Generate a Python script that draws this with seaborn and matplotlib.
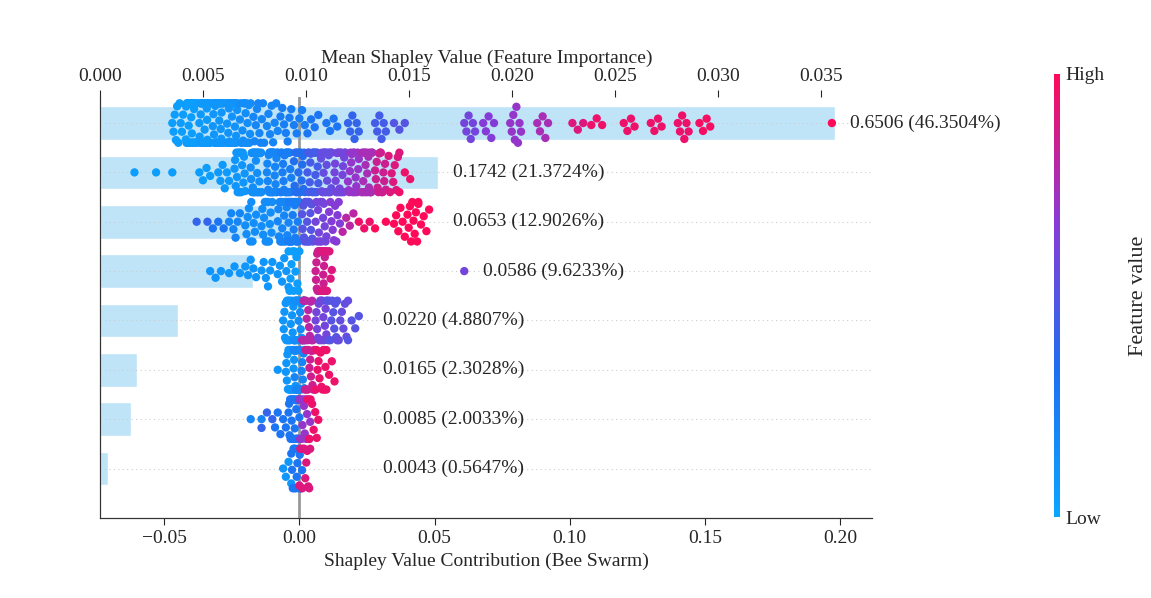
import warnings
import numpy as np
import pandas as pd
import matplotlib
matplotlib.use("Agg")
import matplotlib.pyplot as plt
import seaborn as sns
from matplotlib.colors import LinearSegmentedColormap, Normalize
from matplotlib.cm import ScalarMappable

warnings.filterwarnings("ignore")

features = ["DIGI", "TRANS", "FIN", "GOV", "OPEN", "POP", "IND", "ECO"]
mean_shap = [0.0357, 0.0164, 0.0100, 0.0074, 0.0038, 0.0018, 0.0015, 0.0004]
labels = ["0.6506 (46.3504%)", "0.1742 (21.3724%)", "0.0653 (12.9026%)",
          "0.0586 (9.6233%)", "0.0220 (4.8807%)", "0.0165 (2.3028%)",
          "0.0085 (2.0033%)", "0.0043 (0.5647%)"]
label_x = [0.2037, 0.057, 0.057, 0.068, 0.031, 0.031, 0.031, 0.031]

# per-feature bins: (shap center, count, feature value)
bins = {
    "DIGI": [(-0.045, 10, 0.05), (-0.040, 35, 0.05), (-0.035, 40, 0.08), (-0.030, 38, 0.1),
             (-0.025, 30, 0.12), (-0.020, 18, 0.15), (-0.015, 10, 0.2), (-0.010, 8, 0.2),
             (-0.005, 7, 0.25), (0.000, 5, 0.25), (0.005, 4, 0.3), (0.012, 4, 0.3),
             (0.020, 6, 0.4), (0.030, 6, 0.45), (0.037, 3, 0.5), (0.063, 6, 0.6),
             (0.070, 5, 0.65), (0.080, 8, 0.7), (0.090, 5, 0.75), (0.103, 3, 0.9),
             (0.110, 3, 0.95), (0.122, 4, 0.95), (0.132, 4, 0.95), (0.142, 6, 0.95),
             (0.150, 4, 0.97), (0.197, 1, 1.0)],
    "TRANS": [(-0.061, 1, 0.05), (-0.053, 1, 0.05), (-0.047, 1, 0.05), (-0.035, 4, 0.05),
              (-0.028, 6, 0.08), (-0.022, 18, 0.1), (-0.016, 26, 0.15), (-0.010, 26, 0.2),
              (-0.005, 22, 0.25), (0.000, 18, 0.35), (0.005, 20, 0.45), (0.010, 22, 0.55),
              (0.015, 20, 0.6), (0.020, 18, 0.7), (0.025, 20, 0.75), (0.030, 14, 0.85),
              (0.035, 8, 0.9), (0.039, 3, 0.95)],
    "FIN": [(-0.036, 2, 0.4), (-0.030, 3, 0.3), (-0.024, 6, 0.2), (-0.018, 10, 0.15),
            (-0.012, 14, 0.15), (-0.006, 18, 0.2), (-0.002, 22, 0.25), (0.003, 18, 0.5),
            (0.008, 14, 0.6), (0.013, 10, 0.65), (0.018, 4, 0.8), (0.024, 3, 0.95),
            (0.030, 2, 1.0), (0.037, 6, 1.0), (0.042, 10, 1.0), (0.046, 5, 1.0)],
    "GOV": [(-0.031, 3, 0.1), (-0.024, 3, 0.1), (-0.018, 5, 0.1), (-0.012, 6, 0.1),
            (-0.006, 6, 0.1), (-0.002, 12, 0.05), (0.008, 28, 0.85), (0.010, 10, 0.9),
            (0.061, 1, 0.6)],
    "OPEN": [(-0.004, 18, 0.1), (0.000, 22, 0.15), (0.003, 15, 0.8), (0.008, 15, 0.6),
             (0.012, 12, 0.5), (0.016, 8, 0.55), (0.020, 4, 0.5)],
    "POP": [(-0.008, 1, 0.1), (-0.003, 22, 0.1), (0.000, 18, 0.2), (0.004, 15, 0.85),
            (0.008, 12, 0.95), (0.011, 5, 0.95)],
    "IND": [(-0.016, 2, 0.2), (-0.012, 3, 0.4), (-0.007, 5, 0.3), (-0.002, 22, 0.3),
            (0.002, 15, 0.7), (0.005, 8, 0.95)],
    "ECO": [(-0.004, 5, 0.1), (-0.001, 15, 0.3), (0.002, 12, 0.9)],
}

rows = []
for feat in features:
    for center, count, fv in bins[feat]:
        spread = np.linspace(center - 0.002, center + 0.002, count) if count > 1 else [center]
        for v in spread:
            rows.append((feat, v, fv))
df = pd.DataFrame(rows, columns=["feature", "shap", "fv"])

cmap = LinearSegmentedColormap.from_list("shap", ["#0aa6ff", "#1e6ff0", "#8a3ad6", "#ff0a58"])

sns.set_style("white")
plt.rcParams["font.family"] = ["Liberation Serif", "DejaVu Serif"]
plt.rcParams["font.size"] = 14

fig = plt.figure(figsize=(11.51, 5.98), dpi=100)
ax = fig.add_axes([0.087, 0.134, 0.671, 0.704])
axt = ax.twiny()

# bars on the top axis, behind the swarm
axt.barh(np.arange(len(features)), mean_shap, height=0.68, color="#bfe4f8", zorder=1)
axt.set_xlim(0, 0.0375)
axt.set_xticks(np.arange(0, 0.0351, 0.005))
axt.set_xticklabels([f"{t:.3f}" for t in np.arange(0, 0.0351, 0.005)])
axt.set_xlabel("Mean Shapley Value (Feature Importance)", fontsize=14)
axt.tick_params(axis="x", labelsize=14, length=5)

ax.set_zorder(axt.get_zorder() + 1)
ax.patch.set_visible(False)

for i in range(len(features)):
    ax.axhline(i, color="#cccccc", lw=0.8, ls=(0, (1, 3)), zorder=0)
ax.axvline(0, color="#999999", lw=2, zorder=1)

sns.swarmplot(data=df, x="shap", y="feature", order=features, hue="fv",
              palette=cmap, hue_norm=(0, 1), size=6,
              legend=False, ax=ax, zorder=3)

for i, (lab, lx) in enumerate(zip(labels, label_x)):
    ax.text(lx, i, lab, va="center", ha="left", fontsize=14)

ax.set_xlim(-0.0737, 0.212)
ax.set_ylim(8.0, -0.53)
ax.set_xticks([-0.05, 0.0, 0.05, 0.10, 0.15, 0.20])
ax.set_xticklabels(["\u22120.05", "0.00", "0.05", "0.10", "0.15", "0.20"])
ax.set_xlabel("Shapley Value Contribution (Bee Swarm)", fontsize=14)
ax.set_ylabel("")
ax.tick_params(axis="both", labelsize=14, length=5)
ax.tick_params(axis="y", length=0, pad=8)
axt.set_ylim(8.0, -0.53)
axt.set_yticks([])

for a in (ax, axt):
    a.spines["right"].set_visible(False)
    a.spines["top"].set_visible(False)
    a.spines["left"].set_color("#333333")
    a.spines["bottom"].set_color("#333333")

cax = fig.add_axes([0.916, 0.135, 0.005, 0.742])
sm = ScalarMappable(norm=Normalize(0, 1), cmap=cmap)
cb = fig.colorbar(sm, cax=cax)
cb.outline.set_visible(False)
cb.set_ticks([0, 1])
cb.set_ticklabels(["Low", "High"])
cb.ax.tick_params(length=0, labelsize=14)
cb.set_label("Feature value", fontsize=16, labelpad=18)

fig.savefig("out.png", dpi=100)
